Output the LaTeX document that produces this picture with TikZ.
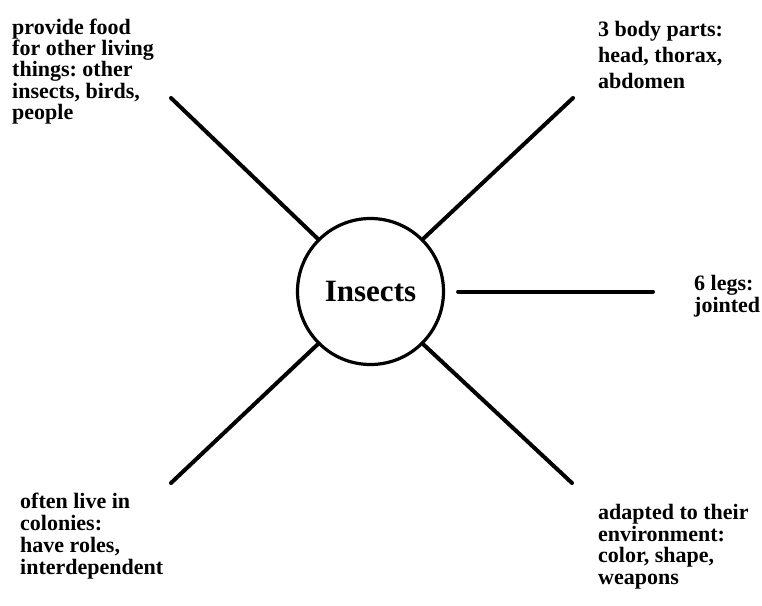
\documentclass[tikz,border=0pt]{standalone}
\usepackage{fontspec}
\setmainfont{Liberation Serif}
\frenchspacing
\begin{document}
\begin{tikzpicture}[x=1pt,y=-1pt,
  lbl/.style={anchor=north west,inner sep=0pt,align=left,font=\frenchspacing\bfseries\fontsize{22pt}{#1}\selectfont},
  spoke/.style={line width=4pt,line cap=round},
  hub/.style={circle,draw,line width=3.2pt,minimum size=146pt,inner sep=0pt,font=\bfseries\fontsize{31pt}{31pt}\selectfont}]
\useasboundingbox (0,0) rectangle (762,605);
\node[hub] (ins) at (370.5,291.5) {Insects};
\coordinate (tl) at (171,98);
\coordinate (tr) at (573,98);
\coordinate (bl) at (171,483);
\coordinate (br) at (572,483);
\coordinate (re) at (653,291.5);
\node[lbl=21.3pt] (food) at (12,18.5) {provide food\\for other living\\things: other\\insects, birds,\\people};
\node[lbl=26pt] (body) at (598,21.5) {3 body parts:\\head, thorax,\\abdomen};
\node[lbl=17pt] (legs) at (694,275.5) {6 legs:\\jointed};
\node[lbl=22pt] (col) at (20,492.5) {often live in\\colonies:\\have roles,\\interdependent};
\node[lbl=21.5pt] (env) at (598,504.5) {adapted to their\\environment:\\color, shape,\\weapons};
\draw[spoke] (ins.135) -- (tl);
\draw[spoke] (ins.45) -- (tr);
\draw[spoke] (ins.225) -- (bl);
\draw[spoke] (ins.315) -- (br);
\draw[spoke,shorten <=13pt] (ins.east) -- (re);
\end{tikzpicture}
\end{document}
